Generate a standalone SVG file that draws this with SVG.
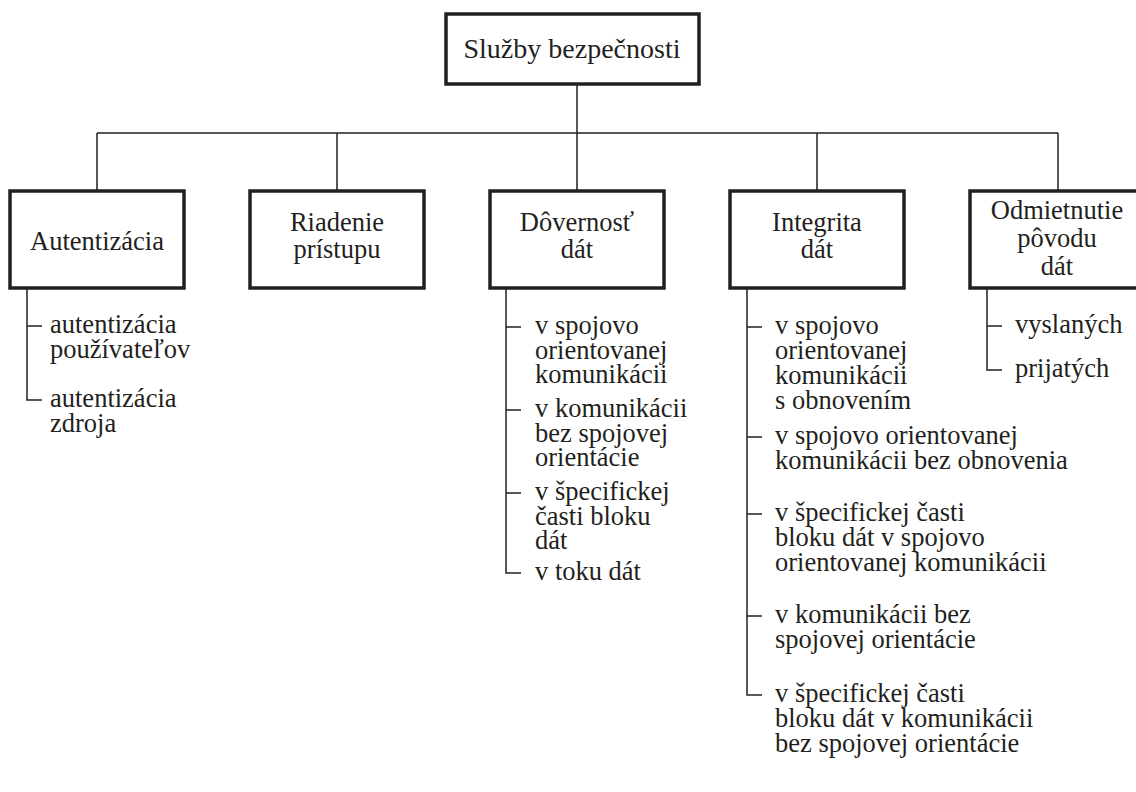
<svg xmlns="http://www.w3.org/2000/svg" width="1136" height="792" viewBox="0 0 1136 792">
<style>
.box{fill:#fff;stroke:#231f20;stroke-width:3.5}
.ln{fill:none;stroke:#231f20;stroke-width:1.5}
text{font-family:"Liberation Serif","Times New Roman",serif;font-size:26.5px;fill:#231f20}
.c{text-anchor:middle}
</style>
<rect width="1136" height="792" fill="#fff"/>
<g id="connectors">
<path class="ln" d="M577 84V133M97 133H1058M97 133V191M337 133V191M577 133V191M817 133V191M1058 133V191"/>
<path class="ln" d="M27 289V400H42M27 326H42"/>
<path class="ln" d="M506 289V573H521M506 327H521M506 410H521M506 493H521"/>
<path class="ln" d="M747 289V695H762M747 327H762M747 437H762M747 514H762M747 616H762"/>
<path class="ln" d="M987 289V370H1002M987 326H1002"/>
</g>
<g id="root">
<rect class="box" x="446" y="14" width="253" height="70"/>
<text class="c" x="572" y="58" style="font-size:28px">Služby bezpečnosti</text>
</g>
<g id="autentizacia">
<rect class="box" x="10" y="191" width="174" height="97"/>
<text class="c" x="97" y="250">Autentizácia</text>
<text x="50" y="333">autentizácia</text>
<text x="50" y="358">používateľov</text>
<text x="50" y="407">autentizácia</text>
<text x="50" y="432">zdroja</text>
</g>
<g id="riadenie">
<rect class="box" x="250" y="191" width="174" height="97"/>
<text class="c" x="337" y="231">Riadenie</text>
<text class="c" x="337" y="258">prístupu</text>
</g>
<g id="dovernost">
<rect class="box" x="490" y="191" width="174" height="97"/>
<text class="c" x="577" y="231">Dôvernosť</text>
<text class="c" x="577" y="258">dát</text>
<text x="535" y="334">v spojovo</text>
<text x="535" y="358.5">orientovanej</text>
<text x="535" y="383">komunikácii</text>
<text x="535" y="417">v komunikácii</text>
<text x="535" y="441.5">bez spojovej</text>
<text x="535" y="466">orientácie</text>
<text x="535" y="500">v špecifickej</text>
<text x="535" y="524.5">časti bloku</text>
<text x="535" y="549">dát</text>
<text x="535" y="580">v toku dát</text>
</g>
<g id="integrita">
<rect class="box" x="730" y="191" width="174" height="97"/>
<text class="c" x="817" y="231">Integrita</text>
<text class="c" x="817" y="258">dát</text>
<text x="775" y="334">v spojovo</text>
<text x="775" y="359">orientovanej</text>
<text x="775" y="384">komunikácii</text>
<text x="775" y="409">s obnovením</text>
<text x="775" y="444">v spojovo orientovanej</text>
<text x="775" y="469">komunikácii bez obnovenia</text>
<text x="775" y="521">v špecifickej časti</text>
<text x="775" y="546">bloku dát v spojovo</text>
<text x="775" y="571">orientovanej komunikácii</text>
<text x="775" y="623">v komunikácii bez</text>
<text x="775" y="648">spojovej orientácie</text>
<text x="775" y="702">v špecifickej časti</text>
<text x="775" y="727">bloku dát v komunikácii</text>
<text x="775" y="752">bez spojovej orientácie</text>
</g>
<g id="odmietnutie">
<rect class="box" x="970" y="191" width="174" height="97"/>
<text class="c" x="1057" y="219">Odmietnutie</text>
<text class="c" x="1057" y="247">pôvodu</text>
<text class="c" x="1057" y="275">dát</text>
<text x="1015" y="333">vyslaných</text>
<text x="1015" y="377">prijatých</text>
</g>
</svg>
